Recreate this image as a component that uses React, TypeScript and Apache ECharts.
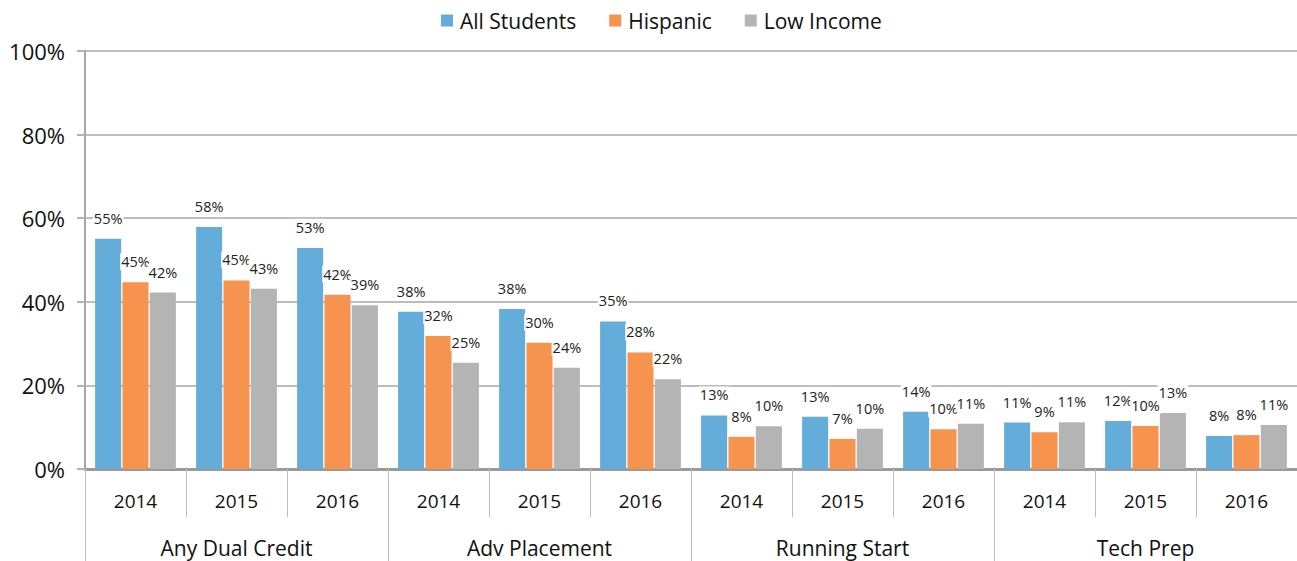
import React, { useEffect, useRef } from "react";
import * as echarts from "echarts";

const years = ["2014", "2015", "2016", "2014", "2015", "2016", "2014", "2015", "2016", "2014", "2015", "2016"];
const programs = ["Any Dual Credit", "Adv Placement", "Running Start", "Tech Prep"];
const seriesNames = ["All Students", "Hispanic", "Low Income"];
const allStudents = [55.1, 57.9, 52.9, 37.6, 38.3, 35.3, 12.8, 12.5, 13.7, 11.1, 11.5, 7.9];
const hispanic = [44.7, 45.1, 41.7, 31.8, 30.2, 27.9, 7.7, 7.2, 9.5, 8.8, 10.3, 8.1];
const lowIncome = [42.2, 43.1, 39.2, 25.4, 24.2, 21.5, 10.2, 9.6, 10.8, 11.2, 13.4, 10.5];
const yTicks = [0, 20, 40, 60, 80, 100];

const colors = ["#64ADDB", "#F5934F", "#B4B4B4"];
const FONT = "Open Sans";

export default function App() {
  const ref = useRef<HTMLDivElement>(null);
  useEffect(() => {
    if (!ref.current) return;
    const chart = echarts.init(ref.current, undefined, { renderer: "svg" });
    const values = [allStudents, hispanic, lowIncome];
    chart.setOption({
      animation: false,
      textStyle: { fontFamily: FONT },
      legend: {
        top: 5,
        left: 436,
        itemWidth: 12,
        itemHeight: 12,
        itemGap: 33,
        icon: "rect",
        textStyle: { fontSize: 21, color: "#111", fontFamily: FONT, padding: [0, 0, 0, 2] },
        data: seriesNames,
      },
      grid: { left: 85, right: 0, top: 51, bottom: 92, containLabel: false },
      yAxis: {
        type: "value",
        min: yTicks[0],
        max: yTicks[yTicks.length - 1],
        interval: 20,
        axisLine: { show: true, lineStyle: { color: "#a6a6a6", width: 2 } },
        axisTick: { show: true, length: 8, lineStyle: { color: "#b3b3b3", width: 2 } },
        splitLine: { show: true, lineStyle: { color: "#bdbdbd", width: 2 } },
        axisLabel: {
          formatter: (v: number) => v + "%",
          fontSize: 22,
          color: "#111",
          margin: 20,
          fontFamily: FONT,
        },
      },
      xAxis: [
        {
          type: "category",
          data: years,
          position: "bottom",
          axisLine: { show: true, lineStyle: { color: "#9a9a9a", width: 3 } },
          axisTick: { show: true, interval: 0, length: 48, lineStyle: { color: "#bdbdbd", width: 1 } },
          axisLabel: { interval: 0, fontSize: 19, color: "#111", margin: 22, fontFamily: FONT },
        },
        {
          type: "category",
          data: programs,
          position: "bottom",
          axisLine: { show: false },
          axisTick: { show: true, interval: 0, length: 92, lineStyle: { color: "#bdbdbd", width: 1 } },
          axisLabel: { interval: 0, fontSize: 21, color: "#111", margin: 68, fontFamily: FONT },
        },
      ],
      series: seriesNames.map((name, i) => ({
        name,
        type: "bar",
        xAxisIndex: 0,
        data: values[i],
        barCategoryGap: "20%",
        barGap: "5%",
        itemStyle: { color: colors[i] },
        label: {
          show: true,
          position: "top",
          distance: 12,
          formatter: (p: any) => Math.round(p.value) + "%",
          fontSize: 14.5,
          color: "#222",
          fontFamily: FONT,
          backgroundColor: "#ffffff",
          padding: [1, 1, 1, 1],
        },
      })),
    });
    return () => chart.dispose();
  }, []);
  return (
    <div
      ref={ref}
      style={{ position: "fixed", left: 0, top: 0, width: 1297, height: 561, background: "#fff" }}
    />
  );
}
